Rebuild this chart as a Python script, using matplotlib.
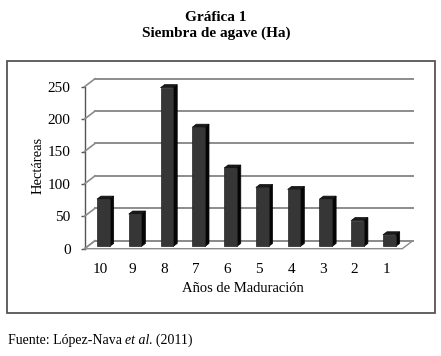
import numpy as np
import matplotlib
matplotlib.use("Agg")
import matplotlib.pyplot as plt
from matplotlib.patches import Polygon, Rectangle
from matplotlib.lines import Line2D
from matplotlib.transforms import IdentityTransform

# ---- data ----
categories = ["10", "9", "8", "7", "6", "5", "4", "3", "2", "1"]
hectareas = [73, 50, 245, 184, 121, 91, 88, 73, 40, 18]
yticks = [0, 50, 100, 150, 200, 250]
title_lines = ["Gráfica 1", "Siembra de agave (Ha)"]
xlabel = "Años de Maduración"
ylabel = "Hectáreas"

W, H = 441, 356
fig = plt.figure(figsize=(W / 100, H / 100), dpi=100)
fig.patch.set_facecolor("white")
plt.rcParams["font.family"] = ["Liberation Serif", "DejaVu Serif"]

def fx(px):
    return px / W

def fy(py):
    return 1 - py / H

# front plane axes
L, R, B, T = 84.5, 402.3, 248.7, 86.7
ax = fig.add_axes([fx(L), fy(B), fx(R - L), (B - T) / H])
ax.set_xlim(-0.5, len(categories) - 0.5)
ax.set_ylim(0, 250)
ax.patch.set_alpha(0)
for s in ["top", "right", "bottom"]:
    ax.spines[s].set_visible(False)
ax.spines["left"].set_color("#555555")
ax.spines["left"].set_linewidth(1.0)
ax.set_yticks(yticks)
ax.set_yticklabels([str(v) for v in yticks])
ax.tick_params(axis="y", length=3, width=1.0, color="#555555", pad=7, labelsize=11)
ax.set_xticks(range(len(categories)))
ax.set_xticklabels(categories)
ax.tick_params(axis="x", length=0, pad=10, labelsize=11)

DX, DY = 10.5, 8.0  # depth offset in pixels (display coords)

def P(x, y, d):
    p = ax.transData.transform((x, y))
    return (p[0] + d * DX, p[1] + d * DY)

idt = IdentityTransform()
grid_c = "#8c8c8c"
x0, x1 = -0.5, len(categories) - 0.5

# floor
floor = Polygon([P(x0, 0, 0), P(x1, 0, 0), P(x1, 0, 1), P(x0, 0, 1)], closed=True,
                facecolor="white", edgecolor=grid_c, linewidth=1.0, transform=idt, zorder=1)
fig.add_artist(floor)

# back wall and side wall gridlines
for v in yticks:
    a, b = P(x0, v, 1), P(x1, v, 1)
    fig.add_artist(Line2D([a[0], b[0]], [a[1], b[1]], color=grid_c, lw=1.4,
                          transform=idt, zorder=2))
    c = P(x0, v, 0)
    fig.add_artist(Line2D([c[0], a[0]], [c[1], a[1]], color=grid_c, lw=1.2,
                          transform=idt, zorder=2))

# bars
bw = 0.4
d0, d1 = 0.28, 0.66
for i, v in enumerate(hectareas):
    xl, xr = i - bw / 2, i + bw / 2
    front = [P(xl, 0, d0), P(xr, 0, d0), P(xr, v, d0), P(xl, v, d0)]
    side = [P(xr, 0, d0), P(xr, 0, d1), P(xr, v, d1), P(xr, v, d0)]
    top = [P(xl, v, d0), P(xr, v, d0), P(xr, v, d1), P(xl, v, d1)]
    fig.add_artist(Polygon(side, closed=True, facecolor="#050505", edgecolor="#050505",
                           lw=0.5, transform=idt, zorder=3))
    fig.add_artist(Polygon(top, closed=True, facecolor="#1a1a1a", edgecolor="#0a0a0a",
                           lw=0.5, transform=idt, zorder=3))
    fig.add_artist(Polygon(front, closed=True, facecolor="#363636", edgecolor="#222222",
                           lw=0.5, transform=idt, zorder=4))

# outer box
fig.add_artist(Rectangle((fx(6.5), fy(312.5)), fx(428), (312.5 - 60.5) / H,
                         transform=fig.transFigure, fill=False, edgecolor="#555555",
                         linewidth=1.3, zorder=0))

# titles
fig.text(fx(216), fy(17.5), title_lines[0], ha="center", va="center",
         fontsize=11, fontweight="bold")
fig.text(fx(216), fy(33.5), title_lines[1], ha="center", va="center",
         fontsize=11, fontweight="bold")

# axis labels
fig.text(fx(243), fy(288.5), xlabel, ha="center", va="center", fontsize=10.5)
fig.text(fx(38.5), fy(165), ylabel, ha="center", va="center", rotation=90, fontsize=10.5)

# footer with italic part
renderer = fig.canvas.get_renderer()
t1 = fig.text(fx(7.5), fy(340.5), "Fuente: López-Nava ", ha="left", va="center", fontsize=10)
bb = t1.get_window_extent(renderer)
t2 = fig.text(bb.x1 / W, fy(340.5), "et al", ha="left", va="center", fontsize=10,
              style="italic")
bb2 = t2.get_window_extent(renderer)
fig.text(bb2.x1 / W, fy(340.5), ". (2011)", ha="left", va="center", fontsize=10)

fig.savefig("out.png", dpi=100, facecolor="white")
